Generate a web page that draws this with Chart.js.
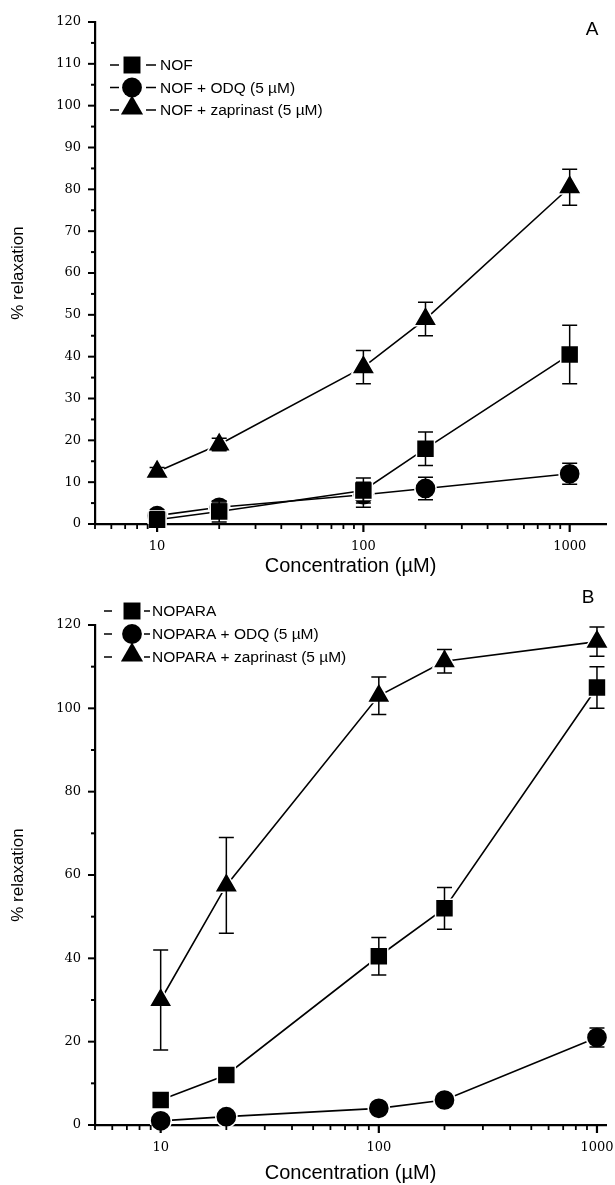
<!DOCTYPE html>
<html>
<head>
<meta charset="utf-8">
<script src="https://cdn.jsdelivr.net/npm/chart.js@4.4.1/dist/chart.umd.min.js"></script>
<style>
  html, body { margin: 0; padding: 0; background: #fff; }
  #wrap { position: relative; width: 615px; height: 1185px; }
  canvas { position: absolute; left: 0; }
</style>
</head>
<body>
<div id="wrap">
  <canvas id="chartA" width="615" height="590" style="top:0"></canvas>
  <canvas id="chartB" width="615" height="595" style="top:590px"></canvas>
</div>
<script>
// concentrations (µM)
const conc = [10, 20, 100, 200, 1000];

// panel A
const nof = [1, 3, 8, 18, 40.5];
const nofErr = [1, 2.5, 3, 4, 7];
const nofOdq = [2, 4, 7, 8.5, 12];
const nofOdqErr = [1, 1, 3, 2.7, 2.5];
const nofZap = [12.5, 19, 37.5, 49, 80.5];
const nofZapErr = [1, 1.5, 4, 4, 4.3];

// panel B
const nopara = [6, 12, 40.5, 52, 105];
const noparaErr = [1, 1, 4.5, 5, 5];
const noparaOdq = [1, 2, 4, 6, 21];
const noparaOdqErr = [0.5, 0.5, 0.5, 0.5, 2.3];
const noparaZap = [30, 57.5, 103, 111.3, 116];
const noparaZapErr = [12, 11.5, 4.5, 2.8, 3.5];

const labelsA = ['NOF', 'NOF + ODQ (5 µM)', 'NOF + zaprinast (5 µM)'];
const labelsB = ['NOPARA', 'NOPARA + ODQ (5 µM)', 'NOPARA + zaprinast (5 µM)'];
const xLabelTicks = [10, 100, 1000];

// log axis tick positions 5..1000
const xTickVals = [];
for (let d = 1; d <= 100; d *= 10) {
  for (let m = 1; m <= 9; m++) {
    if (d * m >= 5) xTickVals.push(d * m);
  }
}
xTickVals.push(1000);

const styles = [
  { pointStyle: 'rect', radius: 12.7 },
  { pointStyle: 'circle', radius: 10.6 },
  { pointStyle: 'triangle', radius: 13.5 }
];

Chart.defaults.font.family = '"Liberation Sans", Arial, sans-serif';
Chart.defaults.color = '#000';

function makeDataset(label, vals, errs, i) {
  return {
    label: label,
    data: conc.map((c, k) => ({ x: c, y: vals[k] })),
    errors: errs,
    borderColor: '#000',
    borderWidth: 1.6,
    pointStyle: styles[i].pointStyle,
    pointRadius: styles[i].radius,
    pointHoverRadius: styles[i].radius,
    pointBackgroundColor: '#000',
    pointBorderColor: '#fff',
    pointBorderWidth: 1.5,
    tension: 0,
    clip: false
  };
}

// vertical error bars with caps
const errorBars = {
  id: 'errorBars',
  afterDatasetsDraw(chart) {
    const ctx = chart.ctx;
    const y = chart.scales.y;
    ctx.save();
    ctx.strokeStyle = '#000';
    ctx.lineWidth = 1.5;
    chart.data.datasets.forEach((ds, i) => {
      const meta = chart.getDatasetMeta(i);
      meta.data.forEach((pt, k) => {
        const v = ds.data[k].y, e = ds.errors[k];
        const top = y.getPixelForValue(v + e);
        const bot = y.getPixelForValue(Math.max(v - e, 0));
        ctx.beginPath();
        ctx.moveTo(pt.x, top); ctx.lineTo(pt.x, bot);
        ctx.moveTo(pt.x - 7.5, top); ctx.lineTo(pt.x + 7.5, top);
        ctx.moveTo(pt.x - 7.5, bot); ctx.lineTo(pt.x + 7.5, bot);
        ctx.stroke();
      });
    });
    ctx.restore();
  }
};

// outward tick marks, long for labelled ticks
const tickMarks = {
  id: 'tickMarks',
  afterDraw(chart) {
    const ctx = chart.ctx;
    const xs = chart.scales.x, ys = chart.scales.y;
    const area = chart.chartArea;
    ctx.save();
    ctx.strokeStyle = '#000';
    xs.ticks.forEach(t => {
      const px = xs.getPixelForValue(t.value);
      const major = xLabelTicks.includes(t.value);
      ctx.lineWidth = major ? 2.2 : 1.8;
      ctx.beginPath();
      ctx.moveTo(px, area.bottom);
      ctx.lineTo(px, area.bottom + (major ? 8 : 5));
      ctx.stroke();
    });
    const step = chart.options.plugins.panel.labelStep;
    ys.ticks.forEach(t => {
      const py = ys.getPixelForValue(t.value);
      const major = t.value % step === 0;
      ctx.lineWidth = 2;
      ctx.beginPath();
      ctx.moveTo(area.left, py);
      ctx.lineTo(area.left - (major ? 7 : 4), py);
      ctx.stroke();
    });
    ctx.restore();
  }
};

function fallbackPoint(ctx, style, r, x, y) {
  ctx.beginPath();
  if (style === 'rect') {
    const s = r * Math.SQRT1_2;
    ctx.rect(x - s, y - s, 2 * s, 2 * s);
  } else if (style === 'circle') {
    ctx.arc(x, y, r, 0, Math.PI * 2);
  } else {
    ctx.moveTo(x, y - r);
    ctx.lineTo(x + r * 0.866, y + r * 0.5);
    ctx.lineTo(x - r * 0.866, y + r * 0.5);
    ctx.closePath();
  }
  ctx.fill();
}

// legend "–■– label" and panel letter
const panel = {
  id: 'panel',
  afterDraw(chart, args, opts) {
    const ctx = chart.ctx;
    ctx.save();
    ctx.fillStyle = '#000';
    ctx.strokeStyle = '#000';
    ctx.lineWidth = 1.5;
    ctx.font = '15.5px "Liberation Sans", Arial, sans-serif';
    ctx.textBaseline = 'middle';
    chart.data.datasets.forEach((ds, i) => {
      const ry = opts.legendY + i * opts.rowGap;
      ctx.beginPath();
      ctx.moveTo(opts.dashL[0], ry); ctx.lineTo(opts.dashL[1], ry);
      ctx.moveTo(opts.dashR[0], ry); ctx.lineTo(opts.dashR[1], ry);
      ctx.stroke();
      const st = styles[i];
      const r = st.radius - 0.7;
      const ly = st.pointStyle === 'triangle' ? ry - 2 : ry;
      if (Chart.helpers && Chart.helpers.drawPoint) {
        Chart.helpers.drawPoint(ctx, { pointStyle: st.pointStyle, radius: r, rotation: 0, borderWidth: 0 }, opts.markerX, ly);
      } else {
        fallbackPoint(ctx, st.pointStyle, r, opts.markerX, ly);
      }
      ctx.textAlign = 'left';
      ctx.fillText(ds.label, opts.textX, ry + 1);
    });
    ctx.font = '19px "Liberation Sans", Arial, sans-serif';
    ctx.textAlign = 'center';
    ctx.fillText(opts.letter, opts.letterX, opts.letterY);
    ctx.restore();
  }
};

function makeChart(id, labels, series, errs, cfg) {
  return new Chart(document.getElementById(id), {
    type: 'line',
    data: {
      datasets: series.map((s, i) => makeDataset(labels[i], s, errs[i], i))
    },
    options: {
      responsive: false,
      animation: false,
      events: [],
      layout: { autoPadding: false, padding: { top: cfg.padTop, right: 9, left: 0, bottom: 0 } },
      plugins: {
        legend: { display: false },
        tooltip: { enabled: false },
        panel: cfg.panel
      },
      scales: {
        x: {
          type: 'logarithmic',
          min: 5,
          max: cfg.xMax,
          afterBuildTicks(scale) {
            scale.ticks = xTickVals.map(v => ({ value: v }));
          },
          afterFit(scale) {
            scale.height = cfg.xHeight;
            scale.paddingLeft = 0;
            scale.paddingRight = 0;
          },
          ticks: {
            autoSkip: false,
            maxRotation: 0,
            padding: 8,
            font: { family: '"DejaVu Serif", serif', size: 13 },
            callback: v => xLabelTicks.includes(v) ? String(v) : ''
          },
          grid: { display: true, drawOnChartArea: false, drawTicks: true, tickLength: 7, tickColor: 'rgba(0,0,0,0)' },
          border: { display: true, color: '#000', width: 2.2 },
          title: {
            display: true,
            text: 'Concentration (µM)',
            font: { size: 20 },
            padding: { top: 0, bottom: cfg.xTitlePad }
          }
        },
        y: {
          min: 0,
          max: 120,
          afterFit(scale) { scale.width = 95; },
          ticks: {
            stepSize: cfg.yStep,
            padding: 7,
            font: { family: '"DejaVu Serif", serif', size: 13 },
            callback: v => v % cfg.panel.labelStep === 0 ? String(v) : ''
          },
          grid: { display: true, drawOnChartArea: false, drawTicks: true, tickLength: 7, tickColor: 'rgba(0,0,0,0)' },
          border: { display: true, color: '#000', width: 2.2 },
          title: {
            display: true,
            text: '% relaxation',
            font: { size: 17 },
            padding: { top: 8, bottom: 0 }
          }
        }
      }
    },
    plugins: [errorBars, tickMarks, panel]
  });
}

makeChart('chartA', labelsA, [nof, nofOdq, nofZap], [nofErr, nofOdqErr, nofZapErr], {
  padTop: 22, xMax: 1500, xHeight: 66, xTitlePad: 12, yStep: 5,
  panel: { labelStep: 10, legendY: 65, rowGap: 22.5, dashL: [110, 119], markerX: 132, dashR: [146, 156], textX: 160, letter: 'A', letterX: 592, letterY: 30 }
});

makeChart('chartB', labelsB, [nopara, noparaOdq, noparaZap], [noparaErr, noparaOdqErr, noparaZapErr], {
  padTop: 35, xMax: 1100, xHeight: 60, xTitlePad: 0, yStep: 10,
  panel: { labelStep: 20, legendY: 21, rowGap: 23, dashL: [104, 112], markerX: 132, dashR: [144, 150], textX: 152, letter: 'B', letterX: 588, letterY: 8 }
});
</script>
</body>
</html>
